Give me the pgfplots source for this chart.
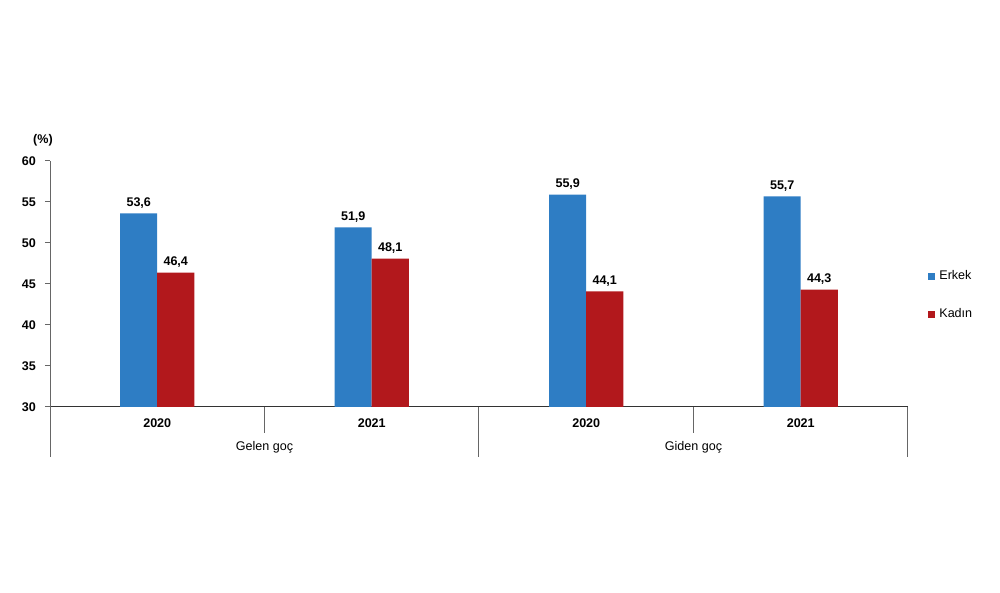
\documentclass[border=0pt]{standalone}
\usepackage{pgfplots}
\pgfplotsset{compat=1.18}
\usepackage{fontspec}
\setmainfont{Liberation Sans}
\definecolor{cblue}{RGB}{46,125,196}
\definecolor{cred}{RGB}{178,24,28}
\begin{document}
\begin{tikzpicture}[font=\fontsize{6.3}{7.6}\selectfont]
\useasboundingbox (0,0) rectangle (500bp,296.5bp);
\node[anchor=center] at (21.5bp,226.5bp) {\bfseries(\%)};
\begin{axis}[
  at={(25bp,93bp)}, anchor=south west, scale only axis,
  width=429bp, height=123bp,
  ybar=0pt, bar width=18.5bp,
  xmin=-0.5, xmax=3.5, ymin=30, ymax=60,
  ytick={30,35,...,60},
  xtick={0,1,2,3}, xticklabels={2020,2021,2020,2021},
  axis lines*=left,
  axis line style={gray!80!black, line width=0.5bp},
  x axis line style={black!80},
  xtick style={draw=none},
  ytick style={gray!80!black, line width=0.5bp},
  tick align=outside, major tick length=2.5bp,
  /pgf/number format/assume math mode=true,
  ticklabel style={font=\fontsize{6.3}{7.6}\selectfont\bfseries},
  yticklabel style={xshift=-1bp},
  xticklabel style={yshift=0bp},
  enlarge x limits=false,
  clip=false,
  nodes near coords={\pgfmathprintnumber[use comma,fixed,fixed zerofill,precision=1]{\pgfplotspointmeta}},
  every node near coord/.append style={font=\fontsize{6.3}{7.6}\selectfont\bfseries, yshift=-1bp},
  legend style={at={(1,0.455)}, anchor=west, xshift=10bp, draw=none, fill=none,
    font=\fontsize{6.3}{7.6}\selectfont, row sep=9bp, inner sep=0pt},
  legend cell align=left,
  legend image code/.code={\fill[#1] (0bp,-1.75bp) rectangle (3.5bp,1.75bp);},
]
\addplot[fill=cblue, draw=none] coordinates {(0,53.6) (1,51.9) (2,55.9) (3,55.7)};
\addplot[fill=cred, draw=none] coordinates {(0,46.4) (1,48.1) (2,44.1) (3,44.3)};
\legend{Erkek, Kadın}
\draw[gray!80!black, line width=0.5bp] ([yshift=-25bp]axis cs:-0.5,30) -- (axis cs:-0.5,30);
\draw[gray!80!black, line width=0.5bp] ([yshift=-13bp]axis cs:0.5,30) -- (axis cs:0.5,30);
\draw[gray!80!black, line width=0.5bp] ([yshift=-25bp]axis cs:1.5,30) -- (axis cs:1.5,30);
\draw[gray!80!black, line width=0.5bp] ([yshift=-13bp]axis cs:2.5,30) -- (axis cs:2.5,30);
\draw[gray!80!black, line width=0.5bp] ([yshift=-25bp]axis cs:3.5,30) -- (axis cs:3.5,30);
\node at ([yshift=-20bp]axis cs:0.5,30) {Gelen goç};
\node at ([yshift=-20bp]axis cs:2.5,30) {Giden goç};
\end{axis}
\end{tikzpicture}
\end{document}
